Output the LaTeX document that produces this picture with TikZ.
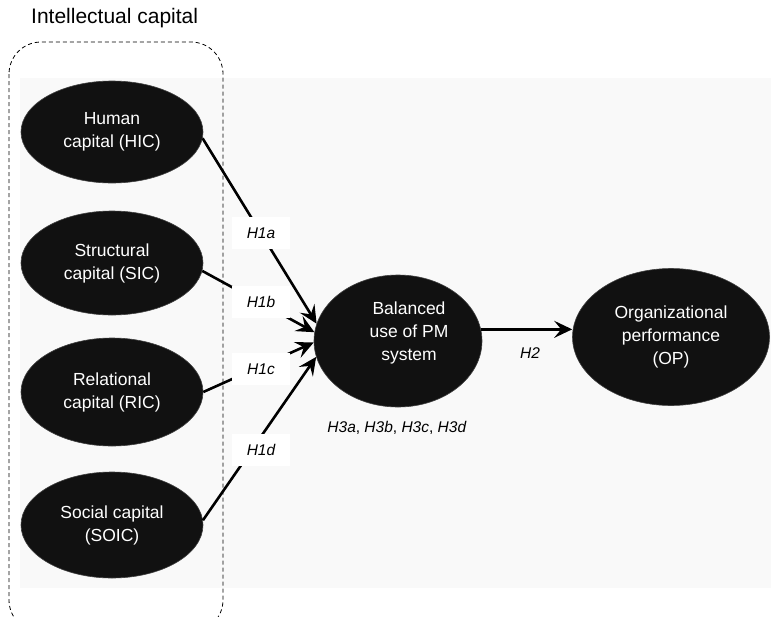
\documentclass[tikz,border=0pt]{standalone}
\usepackage{fontspec}
\setmainfont{Liberation Sans}
\usetikzlibrary{shapes.geometric,arrows.meta}
\definecolor{bggray}{HTML}{F9F9F9}
\definecolor{ellfill}{HTML}{111111}
\tikzset{
  ell/.style={ellipse, fill=ellfill, draw=black!75, line width=0.6pt, text=white, align=center, inner sep=0pt, font=\fontsize{17.5}{23}\selectfont},
  elltext/.style={text=white, align=center, inner sep=0pt, font=\fontsize{17.5}{23}\selectfont},
  arr/.style={line width=2.6pt, -{Stealth[length=18pt,width=17pt,inset=7pt]}},
  hlbl/.style={fill=white, font=\fontsize{15.5}{18}\selectfont\itshape, minimum width=58pt, minimum height=32pt, inner sep=0pt},
  txt/.style={font=\fontsize{15.5}{18}\selectfont, inner sep=0pt},
  groupbox/.style={dash pattern=on 4pt off 3pt, line width=0.8pt, rounded corners=32pt},
}
\begin{document}
\begin{tikzpicture}[x=1pt,y=-1pt]
\useasboundingbox (0,0) rectangle (771,616);
\fill[white] (0,0) rectangle (771,616);
\fill[bggray] (20,78) rectangle (771,588);
\node[anchor=west, font=\fontsize{21}{24}\selectfont, inner sep=0pt] (title) at (31,18) {Intellectual capital};
\begin{scope}
  \clip (0,0) rectangle (771,616);
  \draw[groupbox] (9,42) rectangle (223,632);
\end{scope}
% ellipses
\node[ell, minimum width=182pt, minimum height=102pt] (hic) at (112,132) {Human\\capital (HIC)};
\node[ell, minimum width=182pt, minimum height=104pt] (sic) at (112,263) {Structural\\capital (SIC)};
\node[ell, minimum width=182pt, minimum height=108pt] (ric) at (112,392) {Relational\\capital (RIC)};
\node[ell, minimum width=182pt, minimum height=106pt] (soic) at (112,525) {Social capital\\(SOIC)};
\node[ell, minimum width=168pt, minimum height=132pt] (bal) at (398,341) {};
\node[elltext] (baltext) at (409,333) {Balanced\\use of PM\\system};
\node[ell, minimum width=197pt, minimum height=137pt] (op) at (671,337) {Organizational\\performance\\(OP)};
% connectors
\draw[arr] (hic.-4) -- (bal.168);
\draw[arr] (sic.-5) -- (bal.174);
\draw[arr] (ric.0) -- (bal.181);
\draw[arr] (soic.3) -- (bal.191);
\draw[arr] (bal.8) -- (op.west |- bal.8);
% labels
\node[hlbl] (l1a) at (261,233) {H1a};
\node[hlbl] (l1b) at (261,302) {H1b};
\node[hlbl] (l1c) at (261,369) {H1c};
\node[hlbl] (l1d) at (261,450) {H1d};
\node[txt] (l2) at (530,353) {\itshape H2};
\node[txt] (l3) at (397,428) {\textit{H3a}, \textit{H3b}, \textit{H3c}, \textit{H3d}};
\end{tikzpicture}
\end{document}
